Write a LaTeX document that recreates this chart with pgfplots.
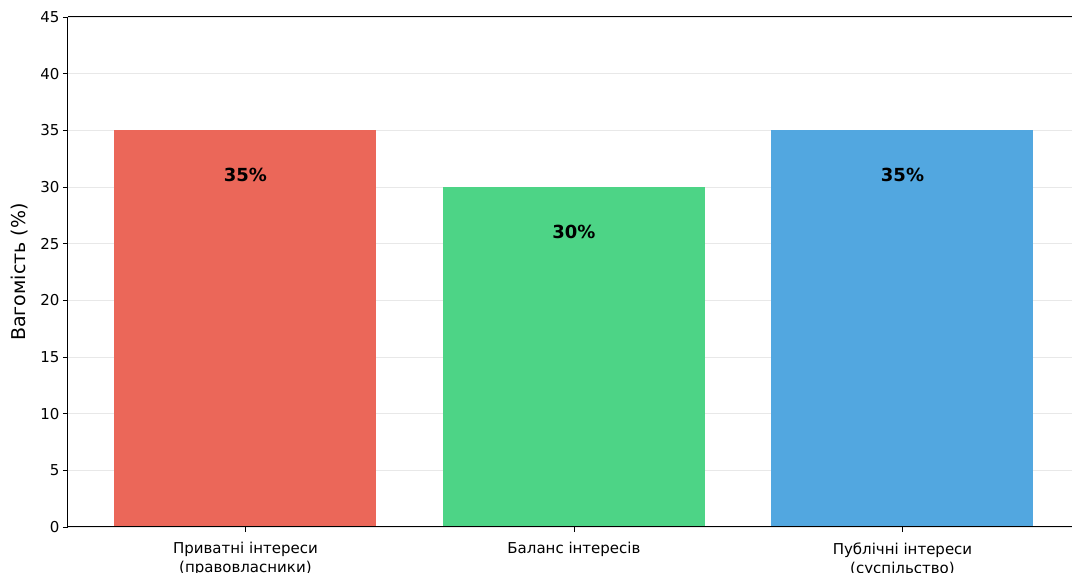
\documentclass[border=0pt]{standalone}
\usepackage{pgfplots}
\pgfplotsset{compat=1.18}
\usepackage{fontspec}
\setmainfont{DejaVu Sans}

\definecolor{barred}{RGB}{235,103,89}
\definecolor{bargreen}{RGB}{77,212,134}
\definecolor{barblue}{RGB}{82,167,224}
\definecolor{gridgray}{RGB}{232,232,232}

\begin{document}
\begin{tikzpicture}
\begin{axis}[
    at={(0,0)}, anchor=south west,
    scale only axis,
    width=1004pt, height=510pt,
    xmin=-0.54, xmax=2.516,
    ymin=0, ymax=45,
    clip=false,
    ytick={0,5,...,45},
    xtick={0,1,2},
    xticklabels={{Приватні інтереси\\(правовласники)},{Баланс інтересів},{Публічні інтереси\\(суспільство)}},
    xticklabel style={align=center, font=\fontsize{15}{19}\selectfont, yshift=-7pt},
    yticklabel style={font=\fontsize{15}{15}\selectfont},
    /pgf/number format/assume math mode=true,
    axis line style={draw=none},
    tick style={black, line width=0.8pt},
    major tick length=5pt,
    tick align=outside,
    xtick pos=bottom, ytick pos=left,
    ymajorgrids,
    grid style={gridgray, line width=0.8pt},
    ylabel={Вагомість (\%)},
    ylabel style={font=\fontsize{19}{19}\selectfont, at={(rel axis cs:0,0.5)}, anchor=center, yshift=48pt},
    nodes near coords={\textbf{\pgfmathprintnumber{\pgfplotspointmeta}\%}},
    every node near coord/.style={font=\fontsize{18}{18}\selectfont, black, anchor=center, yshift=-45pt},
]
\addplot[ybar, bar width=262pt, fill=barred, draw=none] coordinates {(0,35)};
\addplot[ybar, bar width=262pt, fill=bargreen, draw=none] coordinates {(1,30)};
\addplot[ybar, bar width=262pt, fill=barblue, draw=none] coordinates {(2,35)};
\draw[black, line width=1pt] (rel axis cs:0,1) -- (rel axis cs:0,0) -- (rel axis cs:1,0);
\draw[black, line width=1pt] (rel axis cs:0,1) -- (rel axis cs:1,1);
\end{axis}
\pgfresetboundingbox
\path[use as bounding box] (-68pt,-46pt) rectangle (1004pt,527pt);
\end{tikzpicture}
\end{document}
